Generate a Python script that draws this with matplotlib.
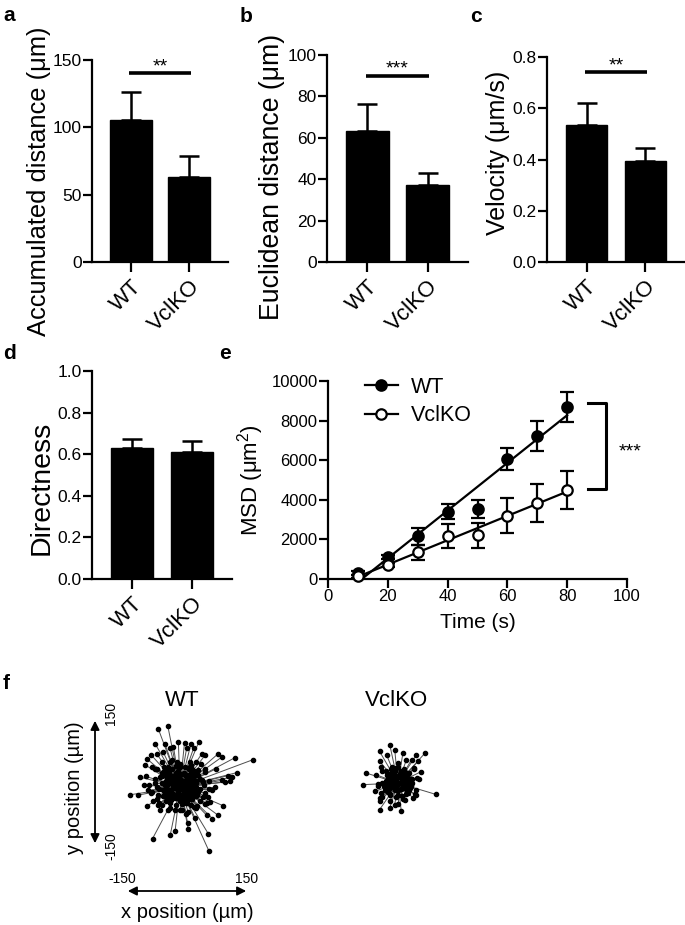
import numpy as np
import matplotlib
matplotlib.use("Agg")
import matplotlib.pyplot as plt
from matplotlib.patches import FancyArrowPatch
from matplotlib.lines import Line2D

plt.rcParams['font.family'] = ['Liberation Sans', 'DejaVu Sans']
plt.rcParams['mathtext.fontset'] = 'custom'
plt.rcParams['mathtext.rm'] = 'Liberation Sans'
plt.rcParams['axes.linewidth'] = 1.6

# ---- data ----
groups = ["WT", "VclKO"]

accum_mean = [105.4, 63.3]
accum_sem = [21.0, 15.3]

eucl_mean = [63.3, 37.0]
eucl_sem = [12.9, 5.9]

vel_mean = [0.533, 0.396]
vel_sem = [0.087, 0.048]

direct_mean = [0.631, 0.612]
direct_sem = [0.040, 0.053]

msd_time = [10, 20, 30, 40, 50, 60, 70, 80]
msd_wt = [302, 1107, 2148, 3406, 3540, 6040, 7232, 8691]
msd_wt_sem = [80, 100, 420, 370, 460, 560, 750, 770]
msd_ko = [134, 721, 1359, 2181, 2198, 3205, 3826, 4497]
msd_ko_sem = [60, 100, 380, 600, 650, 900, 950, 940]

# track end points (um), relative to start; outer ones,
# inner ones estimated from the dense core
wt_end_x = [-53, -30, -61, -37, -4, 11, 27, 46, -24, -16, 16, 33, -57, -71, -81, -41,
            53, 61, 93, 102, 133, 179, -85, -69, -57, 89, 118, 138, 126, -98, -84, 102,
            110, 122, -89, -77, -122, -103, -69, 85, 77, -81, -53, -45, 73, 61, 106, -12,
            0, 20, 37, 65, 79, 93, 19, 20, -12, -24, -67, 69, 71, 41, 28, -28, 45, -8,
            28, 37, -28, -37, 53, -12, 16, -20, 4, 24, -4, 8, -45, 61, -53, 69,
            -40, -30, -20, -10, 0, 12, 22, 35, 45, 50, -48, -45, -50, -42, -35, -25,
            -10, 5, 18, 30, 42, 48, 40, 30, 15, 0, -15, -28, -32, -28, -18, -5,
            10, 22, 28, 20, 5, -8, -15, -5, 8, 12, -2, 55, 58, -55, -60, 35,
            -30, 60, -60, 25, -25, 70, -70,
            -12, 14, 3, -6, 18, -18, 9, -14, 20, -3, -25, 25, 30, -28, 0, -33,
            33, 10, -10, 22, -22, 35, -35, 15, -5, -45, 45, 50, -50, 0, 5, -55,
            55, -38, 38, -48, 52, 25, -25, 60, -62, 42, -42, 30, -30, -65, 65, -20,
            15, 40, -45, 70, -75,
            -36, -26, -16, -6, 4, 14, 24, 34, -31, -21, -11, -1, 9, 19, 29, 39,
            -36, -26, -16, -6, 4, 14, 24, 34, -31, -21, -11, -1, 9, 19, 29, 39,
            -36, -26, -16, -6, 4, 14, 24, 34, -31, -21, -11, -1, 9, 19, 29, 39]
wt_end_y = [142, 150, 106, 106, 110, 108, 106, 110, 94, 98, 94, 94, 81, 79, 69, 85,
            81, 77, 81, 73, 71, 67, 54, 49, 45, 45, 28, 35, 24, 24, 26, 16,
            12, 14, 4, -8, -19, -20, -12, 0, -8, -46, -45, -43, -37, -41, -46, -57,
            -57, -61, -76, -69, -77, -69, -89, -102, -108, -118, -126, -114, -157, -46, -45, -20, -12, 61,
            53, 37, 33, 12, 16, -28, -33, 12, 4, -4, 28, -20, 28, 37, -20, -24,
            40, 50, 45, 52, 48, 50, 44, 40, 30, 20, 25, 10, -5, -22, -35, -40,
            -45, -42, -38, -30, -20, -5, 10, 25, 30, 30, 28, 20, 5, -10, -22, -28,
            -25, -15, 0, 12, 15, 12, 0, -10, -8, 5, 2, -25, 5, -30, 10, -48,
            -55, 45, 45, 60, 62, 15, -15,
            8, -6, 18, -15, 10, -2, -18, 16, -12, -5, 25, 28, -20, -25, -35, 8,
            12, 33, 34, -30, -32, -5, -12, -40, 40, 35, 42, -35, -40, 55, -55, 0,
            12, 50, -50, -55, 55, 50, -50, -15, 20, 30, -8, 45, 45, -35, -40, 65,
            -65, 60, 60, -5, 5,
            30, 34, 28, 33, 31, 27, 32, 26, 20, 16, 22, 18, 15, 21, 17, 14,
            6, 9, 3, 8, 5, 2, 7, 4, -4, -8, -2, -6, -9, -3, -7, -1,
            -16, -12, -18, -14, -19, -13, -17, -11, -26, -30, -24, -28, -32, -25, -29, -22]

ko_end_x = [-20, -45, -8, -28, 12, 45, 65, 33, 49, -45, 57, -77, -53, -85, -49, 93,
            45, 37, 16, -45, -20, -45, 8, -8, 24, -24, 0, -16, 16, -41, 33, -33,
            -30, -15, 0, 15, 28, 35, 32, 25, 10, -5, -20, -32, -38, -25, -12, 5,
            18, 20, 8, -8, -18, -5, 5, 40, -40, 42, -42, 50, -55, 0, 20, -20,
            -10, 12, 3, -5, 15, -15, 8, -12, 18, -2, -22, 22, 26, -25, 0, -30,
            30, 8, -8, 20, -20, 32, -32, 12, -4, -38, 38, 44, -44, 0, -48, 46,
            -26, -16, -6, 4, 14, 24, -21, -11, -1, 9, 19, 29,
            -26, -16, -6, 4, 14, 24, -21, -11, -1, 9, 19, 29]
ko_end_y = [93, 77, 81, 69, 73, 69, 72, 57, 53, 53, 28, 24, 20, -4, -8, -28,
            -16, -37, -41, -45, -45, -65, -69, -53, 8, 8, -16, 33, 28, -24, 0, -8,
            30, 38, 40, 35, 25, 10, -8, -25, -32, -35, -30, -18, 0, 12, 20, 22,
            12, -5, -15, -18, -5, 5, 0, 35, -35, -28, 38, 10, -20, -52, 55, -60,
            8, -5, 15, -12, 10, -2, -15, 14, -10, -4, 22, 25, -18, -22, -30, 6,
            10, 30, 30, -28, -28, -4, -10, -38, 36, 30, 36, -30, -36, 48, -2, 12,
            20, 24, 18, 22, 19, 23, 12, 9, 14, 10, 13, 8,
            -2, 3, -5, 1, -3, 2, -14, -10, -16, -12, -15, -11]

W, H = 685, 925


def box(x0, y0, x1, y1):
    return [x0 / W, 1 - y1 / H, (x1 - x0) / W, (y1 - y0) / H]


def fx(px):
    return px / W


def fy(py):
    return 1 - py / H


def style_axes(ax):
    for s in ["top", "right"]:
        ax.spines[s].set_visible(False)
    ax.tick_params(direction="out", length=6.5, width=1.6, labelsize=12.5, pad=1)


def bar_panel(ax, means, sems, ylim, yticks, ylabel, fmt, lab_size, lab_xy,
              sig=None, sig_y=None):
    x = np.arange(len(groups))
    ax.bar(x, means, width=0.71, color="k", edgecolor="k")
    ax.errorbar(x, means, yerr=[np.zeros(len(x)), sems], fmt="none", ecolor="k",
                elinewidth=1.8, capsize=7.5, capthick=1.8)
    style_axes(ax)
    ax.tick_params(axis="x", length=7, pad=3, labelsize=16)
    ax.set_xlim(-0.67, 1.67)
    ax.set_ylim(*ylim)
    ax.set_yticks(yticks)
    ax.set_yticklabels([fmt.format(t) for t in yticks])
    ax.set_xticks(x)
    ax.set_xticklabels(groups, rotation=45, ha="right", rotation_mode="anchor")
    ax.set_ylabel(ylabel, fontsize=lab_size)
    ax.yaxis.set_label_coords(*lab_xy)
    if sig:
        ax.plot([-0.03, 1.03], [sig_y, sig_y], color="k", lw=2.6, clip_on=False,
                solid_capstyle="butt")
        ax.annotate(sig, (0.5, sig_y), xytext=(0, 1.5), textcoords="offset points",
                    ha="center", va="baseline", fontsize=14)


fig = plt.figure(figsize=(W / 100, H / 100), dpi=100)

ax_a = fig.add_axes(box(92, 60, 228, 262))
bar_panel(ax_a, accum_mean, accum_sem, (0, 150), [0, 50, 100, 150],
          "Accumulated distance (\u03bcm)", "{:.0f}", 18.4, (-0.30, 0.40), "**", 140)

ax_b = fig.add_axes(box(327, 55, 468, 262))
bar_panel(ax_b, eucl_mean, eucl_sem, (0, 100), [0, 20, 40, 60, 80, 100],
          "Euclidean distance (\u03bcm)", "{:.0f}", 19.2, (-0.30, 0.41), "***", 90)

ax_c = fig.add_axes(box(547, 57, 685, 262))
bar_panel(ax_c, vel_mean, vel_sem, (0, 0.8), [0, 0.2, 0.4, 0.6, 0.8],
          "Velocity (\u03bcm/s)", "{:.1f}", 18.0, (-0.27, 0.53), "**", 0.74)

ax_d = fig.add_axes(box(92, 371, 232, 579))
bar_panel(ax_d, direct_mean, direct_sem, (0, 1.0), [0, 0.2, 0.4, 0.6, 0.8, 1.0],
          "Directness", "{:.1f}", 20.5, (-0.265, 0.44))

# ---- panel e: MSD ----
ax_e = fig.add_axes(box(328, 381, 627, 579))
t = np.array(msd_time)
for ys, es, face in [(msd_wt, msd_wt_sem, "k"), (msd_ko, msd_ko_sem, "white")]:
    ax_e.errorbar(t, ys, yerr=es, fmt="none", ecolor="k", elinewidth=1.6,
                  capsize=4.7, capthick=1.6, zorder=2)
    k, b0 = np.polyfit(t, ys, 1)
    ax_e.plot([t[0], t[-1]], [k * t[0] + b0, k * t[-1] + b0], color="k", lw=1.6, zorder=3)
    ax_e.plot(t, ys, "o", ms=7.5, mfc=face, mec="k", mew=1.6, zorder=4, clip_on=False)
ax_e.set_xlim(0, 100)
ax_e.set_ylim(0, 10000)
ax_e.set_xticks([0, 20, 40, 60, 80, 100])
ax_e.set_yticks([0, 2000, 4000, 6000, 8000, 10000])
style_axes(ax_e)
ax_e.tick_params(labelsize=12)
ax_e.set_xlabel("Time (s)", fontsize=15, labelpad=6)
ax_e.set_ylabel("MSD (\u03bcm$^{2}$)", fontsize=16, labelpad=4)
handles = [Line2D([], [], color="k", lw=1.6, marker="o", ms=7.5, mfc="k", mec="k", mew=1.6),
           Line2D([], [], color="k", lw=1.6, marker="o", ms=7.5, mfc="white", mec="k", mew=1.6)]
ax_e.legend(handles, groups, loc="upper left", bbox_to_anchor=(0.06, 1.12), frameon=False,
            fontsize=15.5, handlelength=1.5, handletextpad=0.6, labelspacing=0.35)
ax_e.plot([87, 93, 93, 87], [8900, 8900, 4530, 4530], color="k", lw=2.2, clip_on=False)
ax_e.text(101, 6200, "***", ha="center", va="baseline", fontsize=14, clip_on=False)

# ---- panel f: trajectories ----
for ax_box, ex, ey in [(box(98, 705, 262, 869), wt_end_x, wt_end_y),
                       (box(316, 701, 480, 865), ko_end_x, ko_end_y)]:
    ax = fig.add_axes(ax_box)
    for x1, y1 in zip(ex, ey):
        ax.plot([0, x1], [0, y1], color="0.3", lw=0.7, zorder=1)
    ax.plot(ex, ey, "o", color="k", ms=3.0, zorder=2)
    ax.set_xlim(-200, 200)
    ax.set_ylim(-200, 200)
    ax.axis("off")

fig.text(fx(182), fy(700), "WT", ha="center", va="center", fontsize=16)
fig.text(fx(397), fy(700), "VclKO", ha="center", va="center", fontsize=16)

arrow_kw = dict(transform=fig.transFigure, arrowstyle="<|-|>", mutation_scale=13,
                lw=1.3, color="k")
fig.add_artist(FancyArrowPatch((fx(95), fy(718)), (fx(95), fy(846)), **arrow_kw))
fig.add_artist(FancyArrowPatch((fx(125), fy(891)), (fx(249), fy(891)), **arrow_kw))
fig.text(fx(111), fy(713), "150", rotation=90, ha="center", va="center", fontsize=10)
fig.text(fx(111), fy(846), "-150", rotation=90, ha="center", va="center", fontsize=10)
fig.text(fx(122), fy(879), "-150", ha="center", va="center", fontsize=10)
fig.text(fx(247), fy(879), "150", ha="center", va="center", fontsize=10)
fig.text(fx(75), fy(788), "y position (\u00b5m)", rotation=90, ha="center", va="center",
         fontsize=14.5)
fig.text(fx(187), fy(913), "x position (\u00b5m)", ha="center", va="center", fontsize=14.5)

# panel letters
for letter, px, py in [("a", 3, 21), ("b", 240, 22), ("c", 470, 22), ("d", 3, 359),
                       ("e", 219, 359), ("f", 3, 689)]:
    fig.text(fx(px), fy(py), letter, fontsize=15, fontweight="bold", va="baseline")

fig.savefig("out.png", dpi=100)
